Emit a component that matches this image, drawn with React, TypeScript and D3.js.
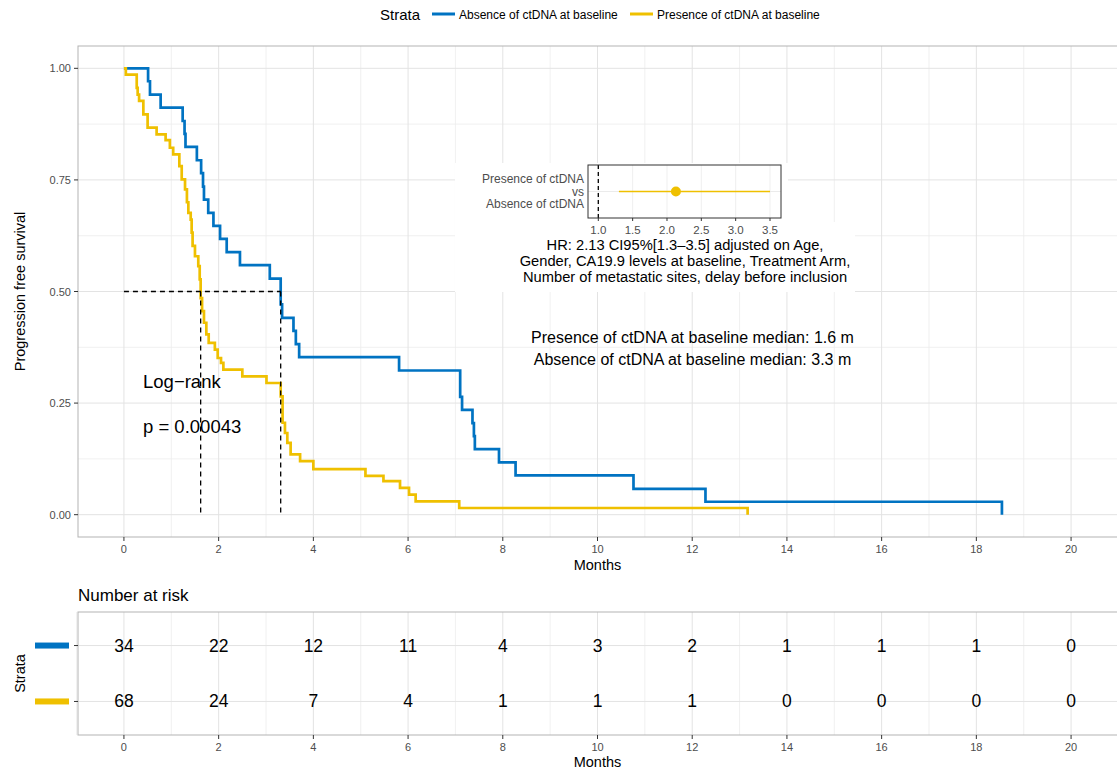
import * as d3 from "d3";

// ---- data ----
const strata = ["Absence of ctDNA at baseline", "Presence of ctDNA at baseline"];
const strataColors = ["#0073C2", "#EFC000"];

// Kaplan-Meier steps (months, survival)
const absenceTimes = [0, 0.51, 0.55, 0.775, 1.24, 1.28, 1.3, 1.54, 1.63, 1.67, 1.69, 1.78, 1.89, 2.03, 2.17, 2.45, 3.08, 3.31, 3.34, 3.58, 3.63, 3.7, 5.81, 7.1, 7.14, 7.36, 7.39, 7.41, 7.92, 8.27, 10.76, 12.28, 18.54];
const absenceSurv = [1.0, 0.971, 0.941, 0.912, 0.882, 0.853, 0.824, 0.794, 0.765, 0.735, 0.706, 0.676, 0.647, 0.618, 0.588, 0.559, 0.529, 0.471, 0.441, 0.412, 0.382, 0.353, 0.323, 0.264, 0.235, 0.205, 0.176, 0.147, 0.117, 0.088, 0.058, 0.029, 0.0];

const presenceTimes = [0, 0.04, 0.27, 0.29, 0.32, 0.41, 0.5, 0.69, 0.88, 0.97, 1.04, 1.17, 1.22, 1.29, 1.33, 1.36, 1.41, 1.43, 1.45, 1.5, 1.57, 1.6, 1.62, 1.65, 1.69, 1.74, 1.79, 1.92, 1.98, 2.05, 2.1, 2.5, 3.01, 3.31, 3.35, 3.4, 3.45, 3.52, 3.72, 4.0, 5.1, 5.48, 5.83, 6.02, 6.16, 7.08, 13.17];
const presenceSurv = [1.0, 0.986, 0.956, 0.941, 0.927, 0.897, 0.867, 0.852, 0.839, 0.822, 0.807, 0.781, 0.751, 0.729, 0.7, 0.676, 0.661, 0.632, 0.602, 0.579, 0.557, 0.527, 0.485, 0.456, 0.43, 0.404, 0.385, 0.37, 0.351, 0.34, 0.325, 0.31, 0.295, 0.265, 0.206, 0.183, 0.161, 0.135, 0.12, 0.102, 0.087, 0.075, 0.06, 0.045, 0.03, 0.015, 0.0];

const medianTimes = [1.62, 3.31];

// number at risk
const riskTimes = [0, 2, 4, 6, 8, 10, 12, 14, 16, 18, 20];
const absenceRisk = [34, 22, 12, 11, 4, 3, 2, 1, 1, 1, 0];
const presenceRisk = [68, 24, 7, 4, 1, 1, 1, 0, 0, 0, 0];

const yTicks = [0, 0.25, 0.5, 0.75, 1.0];
const yMinor = [0.125, 0.375, 0.625, 0.875];
const xTicks = [0, 2, 4, 6, 8, 10, 12, 14, 16, 18, 20];
const xMinor = [-1, 1, 3, 5, 7, 9, 11, 13, 15, 17, 19];

// hazard ratio inset
const hrValue = 2.13;
const hrLow = 1.3;
const hrHigh = 3.5;
const hrTicks = [1.0, 1.5, 2.0, 2.5, 3.0, 3.5];
const hrLabels = ["Presence of ctDNA", "vs", "Absence of ctDNA"];
const hrText = [
  "HR: 2.13 CI95%[1.3\u20133.5] adjusted on Age,",
  "Gender, CA19.9 levels at baseline, Treatment Arm,",
  "Number of metastatic sites, delay before inclusion",
];
const medianText = [
  "Presence of ctDNA at baseline median: 1.6 m",
  "Absence of ctDNA at baseline median: 3.3 m",
];

const FONT = "'Liberation Sans', Arial, Helvetica, sans-serif";
const GRID = "#e3e3e3";
const GRID_MINOR = "#ececec";
const BORDER = "#b3b3b3";
const TICKTXT = "#4d4d4d";

export default function App() {
  const W = 1117;
  const H = 774;

  // ---- main panel ----
  const pL = 78, pR = 1117, pT = 46, pB = 537;
  const x = d3.scaleLinear().domain([-0.97, 20.97]).range([pL, pR]);
  const y = d3.scaleLinear().domain([-0.05, 1.05]).range([pB, pT]);

  const line = d3
    .line<[number, number]>()
    .x((d) => x(d[0]))
    .y((d) => y(d[1]))
    .curve(d3.curveStepAfter);

  const absencePts = absenceTimes.map((t, i) => [t, absenceSurv[i]] as [number, number]);
  const presencePts = presenceTimes.map((t, i) => [t, presenceSurv[i]] as [number, number]);

  // ---- risk table ----
  const rT = 612, rB = 735;
  const ry = d3.scalePoint<string>().domain(strata).range([rT, rB]).padding(0.6);
  const riskRows = [absenceRisk, presenceRisk];

  // ---- HR inset ----
  const fL = 588, fR = 781, fT = 165, fB = 218;
  const fx = d3.scaleLinear().domain([0.85, 3.66]).range([fL, fR]);
  const fyMid = (fT + fB) / 2;

  return (
    <svg
      width={W}
      height={H}
      viewBox={`0 0 ${W} ${H}`}
      style={{ position: "absolute", left: 0, top: 0, display: "block", background: "#fff" }}
      fontFamily={FONT}
    >
      <defs>
        <clipPath id="panelClip">
          <rect x={pL} y={pT} width={pR - pL} height={pB - pT} />
        </clipPath>
      </defs>
      <rect x={0} y={0} width={W} height={H} fill="#fff" />

      {/* legend */}
      <text x={380} y={19.5} fontSize={15} fill="#000">Strata</text>
      {strata.map((s, i) => (
        <g key={s}>
          <line x1={[432, 630][i]} x2={[455, 653][i]} y1={14} y2={14} stroke={strataColors[i]} strokeWidth={3} />
          <text x={[459, 657][i]} y={18.5} fontSize={12} fill="#000">{s}</text>
        </g>
      ))}

      {/* grid */}
      <g clipPath="url(#panelClip)">
        {xMinor.map((t) => (
          <line key={"xm" + t} x1={x(t)} x2={x(t)} y1={pT} y2={pB} stroke={GRID_MINOR} strokeWidth={0.8} />
        ))}
        {yMinor.map((v) => (
          <line key={"ym" + v} x1={pL} x2={pR} y1={y(v)} y2={y(v)} stroke={GRID_MINOR} strokeWidth={0.8} />
        ))}
        {xTicks.map((t) => (
          <line key={"xg" + t} x1={x(t)} x2={x(t)} y1={pT} y2={pB} stroke={GRID} strokeWidth={1} />
        ))}
        {yTicks.map((v) => (
          <line key={"yg" + v} x1={pL} x2={pR} y1={y(v)} y2={y(v)} stroke={GRID} strokeWidth={1} />
        ))}
      </g>

      {/* axes */}
      <rect x={pL} y={pT} width={pR - pL + 2} height={pB - pT} fill="none" stroke={BORDER} strokeWidth={1} />
      {yTicks.map((v) => (
        <g key={"yt" + v}>
          <line x1={pL - 4} x2={pL} y1={y(v)} y2={y(v)} stroke="#333" strokeWidth={1} />
          <text x={pL - 7} y={y(v) + 4} fontSize={11} fill={TICKTXT} textAnchor="end">{v.toFixed(2)}</text>
        </g>
      ))}
      {xTicks.map((t) => (
        <g key={"xt" + t}>
          <line x1={x(t)} x2={x(t)} y1={pB} y2={pB + 4} stroke="#333" strokeWidth={1} />
          <text x={x(t)} y={pB + 16} fontSize={11} fill={TICKTXT} textAnchor="middle">{t}</text>
        </g>
      ))}
      <text x={(pL + pR) / 2} y={pB + 33} fontSize={14.5} textAnchor="middle" fill="#000">Months</text>
      <text transform={`translate(25,${(pT + pB) / 2}) rotate(-90)`} fontSize={14.5} textAnchor="middle" fill="#000">
        Progression free survival
      </text>

      {/* annotations */}
      <text x={143} y={388} fontSize={18.5} fill="#000">Log{"\u2212"}rank</text>
      <text x={143} y={433} fontSize={18.5} fill="#000">p = 0.00043</text>
      {medianText.map((s, i) => (
        <text key={s} x={692.5} y={343 + i * 22} fontSize={16} textAnchor="middle" fill="#000">{s}</text>
      ))}

      {/* curves */}
      <g clipPath="url(#panelClip)" fill="none" strokeWidth={2.7} strokeLinejoin="miter">
        <path d={line(absencePts) || ""} stroke={strataColors[0]} />
        <path d={line(presencePts) || ""} stroke={strataColors[1]} />
      </g>

      {/* median lines */}
      <g stroke="#000" strokeWidth={1.3} strokeDasharray="5,4" fill="none">
        <line x1={x(0)} x2={x(d3.max(medianTimes) as number)} y1={y(0.5)} y2={y(0.5)} />
        {medianTimes.map((m) => (
          <line key={"md" + m} x1={x(m)} x2={x(m)} y1={y(0.5)} y2={y(0)} />
        ))}
      </g>

      {/* HR inset */}
      <rect x={455} y={163} width={333} height={60} fill="#fff" />
      <rect x={455} y={222} width={400} height={70} fill="#fff" />
      {hrTicks.map((t) => (
        <line key={"fg" + t} x1={fx(t)} x2={fx(t)} y1={fT} y2={fB} stroke="#ebebeb" strokeWidth={0.8} />
      ))}
      <line x1={fL} x2={fR} y1={fyMid} y2={fyMid} stroke="#ebebeb" strokeWidth={1} />
      <line x1={fx(1)} x2={fx(1)} y1={fT} y2={fB} stroke="#000" strokeWidth={1.3} strokeDasharray="4,3" />
      <line x1={fx(hrLow)} x2={fx(hrHigh)} y1={fyMid} y2={fyMid} stroke={strataColors[1]} strokeWidth={1.6} />
      <circle cx={fx(hrValue)} cy={fyMid} r={5} fill={strataColors[1]} />
      <rect x={fL} y={fT} width={fR - fL} height={fB - fT} fill="none" stroke="#333" strokeWidth={1} />
      {hrTicks.map((t) => (
        <g key={"ft" + t}>
          <line x1={fx(t)} x2={fx(t)} y1={fB} y2={fB + 3} stroke="#333" strokeWidth={1} />
          <text x={fx(t)} y={fB + 16} fontSize={11.5} fill={TICKTXT} textAnchor="middle">{t.toFixed(1)}</text>
        </g>
      ))}
      {hrLabels.map((s, i) => (
        <text key={s} x={fL - 4} y={fyMid - 12.5 + i * 12.5 + 4} fontSize={12} fill={TICKTXT} textAnchor="end">{s}</text>
      ))}
      {hrText.map((s, i) => (
        <text key={s} x={685} y={250 + i * 16} fontSize={14.7} textAnchor="middle" fill="#000">{s}</text>
      ))}

      {/* risk table */}
      <text x={pL} y={601} fontSize={17} fill="#000">Number at risk</text>
      {xMinor.map((t) => (
        <line key={"rxm" + t} x1={x(t)} x2={x(t)} y1={rT} y2={rB} stroke={GRID_MINOR} strokeWidth={0.8} />
      ))}
      {xTicks.map((t) => (
        <line key={"rxg" + t} x1={x(t)} x2={x(t)} y1={rT} y2={rB} stroke={GRID} strokeWidth={1} />
      ))}
      {strata.map((s) => (
        <line key={"ryg" + s} x1={pL} x2={pR} y1={ry(s) as number} y2={ry(s) as number} stroke={GRID} strokeWidth={1} />
      ))}
      <rect x={pL} y={rT} width={pR - pL + 2} height={rB - rT} fill="none" stroke={BORDER} strokeWidth={1} />
      {strata.map((s, i) => (
        <g key={"row" + s}>
          <rect x={35} y={(ry(s) as number) - 3} width={34} height={6} fill={strataColors[i]} />
          <line x1={pL - 4} x2={pL} y1={ry(s) as number} y2={ry(s) as number} stroke="#333" strokeWidth={1} />
          {riskTimes.map((t, j) => (
            <text key={t} x={x(t)} y={(ry(s) as number) + 6} fontSize={17.5} textAnchor="middle" fill="#000">
              {riskRows[i][j]}
            </text>
          ))}
        </g>
      ))}
      {xTicks.map((t) => (
        <g key={"rxt" + t}>
          <line x1={x(t)} x2={x(t)} y1={rB} y2={rB + 4} stroke="#333" strokeWidth={1} />
          <text x={x(t)} y={rB + 16} fontSize={11} fill={TICKTXT} textAnchor="middle">{t}</text>
        </g>
      ))}
      <text x={(pL + pR) / 2} y={rB + 32} fontSize={14.5} textAnchor="middle" fill="#000">Months</text>
      <text transform={`translate(25,${(rT + rB) / 2}) rotate(-90)`} fontSize={14.5} textAnchor="middle" fill="#000">
        Strata
      </text>
    </svg>
  );
}
